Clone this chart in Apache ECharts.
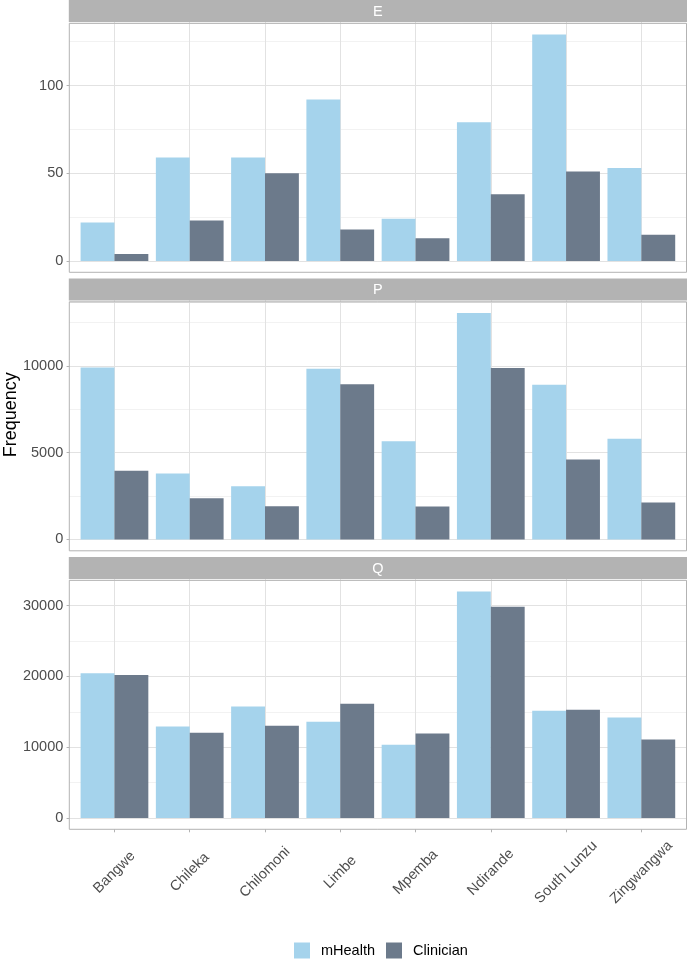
<!DOCTYPE html>
<html>
<head>
<meta charset="utf-8">
<script src="https://cdn.jsdelivr.net/npm/echarts@6/dist/echarts.min.js"></script>
<style>
html,body{margin:0;padding:0;background:#fff;}
#chart{width:688px;height:959px;}
</style>
</head>
<body>
<div id="chart"></div>
<script>
// ---- data ----
const categories = ['Bangwe', 'Chileka', 'Chilomoni', 'Limbe', 'Mpemba', 'Ndirande', 'South Lunzu', 'Zingwangwa'];
const seriesNames = ['mHealth', 'Clinician'];
const panelNames = ['E', 'P', 'Q'];
const E_mHealth = [22, 59, 59, 92, 24, 79, 129, 53];
const E_clinician = [4, 23, 50, 18, 13, 38, 51, 15];
const P_mHealth = [9900, 3800, 3070, 9830, 5650, 13030, 8910, 5800];
const P_clinician = [3950, 2380, 1920, 8930, 1900, 9870, 4600, 2130];
const Q_mHealth = [20450, 12930, 15750, 13590, 10340, 31970, 15140, 14200];
const Q_clinician = [20200, 12040, 13020, 16130, 11940, 29850, 15280, 11100];
const E_ticks = [0, 50, 100];
const P_ticks = [0, 5000, 10000];
const Q_ticks = [0, 10000, 20000, 30000];

const panelData = [
  { name: panelNames[0], values: [E_mHealth, E_clinician], ticks: E_ticks },
  { name: panelNames[1], values: [P_mHealth, P_clinician], ticks: P_ticks },
  { name: panelNames[2], values: [Q_mHealth, Q_clinician], ticks: Q_ticks }
];

// ---- layout / style ----
const FONT = '"Liberation Sans", Arial, Helvetica, sans-serif';
const colors = ['#a5d3ec', '#6c7a8b'];
const panelLeft = 69.3, panelRight = 686.5;
const unit = (panelRight - panelLeft) / (categories.length + 0.2);
const innerLeft = panelLeft + 0.1 * unit, innerRight = panelRight - 0.1 * unit;
const stripH = 23.3, panelH = 249, gapH = 6.2;
const gridH = panelH * 1.05 / 1.1;
const expandPx = panelH - gridH;
const majorColor = '#e2e2e2', minorColor = '#f2f2f2', borderColor = '#b3b3b3';

const grids = [], xAxes = [], yAxes = [], series = [], graphics = [];
let lastPanelBottom = 0;

panelData.forEach((p, k) => {
  const panelTop = stripH + k * (stripH + panelH + gapH);
  const stripTop = panelTop - stripH;
  lastPanelBottom = panelTop + panelH;
  const maxVal = Math.max(...p.values[0], ...p.values[1]);
  const yMax = maxVal * 1.05;
  const major = p.ticks[1] - p.ticks[0];
  const minor = major / 2;

  grids.push({ left: panelLeft, width: panelRight - panelLeft, top: panelTop, height: gridH, outerBoundsMode: 'none' });
  grids.push({ left: innerLeft, width: innerRight - innerLeft, top: panelTop, height: gridH, outerBoundsMode: 'none' });

  xAxes.push({ gridIndex: 2 * k, type: 'value', show: false, min: 0, max: 1 });
  xAxes.push({
    gridIndex: 2 * k + 1, type: 'category', data: categories, position: 'bottom', offset: expandPx,
    axisLine: { show: false }, axisLabel: { show: false, interval: 0 }, splitLine: { show: false },
    axisTick: { show: true, interval: 0, inside: true, alignWithLabel: true, length: panelH, lineStyle: { color: majorColor, width: 1 } }
  });

  yAxes.push({
    gridIndex: 2 * k, type: 'value', position: 'left', min: 0, max: yMax, interval: minor,
    axisLine: { show: false }, axisTick: { show: false }, axisLabel: { show: false },
    splitLine: { show: true, lineStyle: { color: minorColor, width: 1 } }
  });
  yAxes.push({
    gridIndex: 2 * k, type: 'value', position: 'left', offset: 0, min: 0, max: yMax, interval: major,
    axisLine: { show: false },
    axisTick: { show: true, length: 2.7, lineStyle: { color: borderColor, width: 1 } },
    axisLabel: { margin: 6, fontSize: 14.5, color: '#4d4d4d', fontFamily: FONT, showMaxLabel: false, formatter: v => String(v) },
    splitLine: { show: true, lineStyle: { color: majorColor, width: 1 } }
  });
  yAxes.push({ gridIndex: 2 * k + 1, type: 'value', position: 'left', min: 0, max: yMax, show: false, splitLine: { show: false } });

  p.values.forEach((vals, s) => {
    series.push({
      type: 'bar', name: seriesNames[s], data: vals,
      xAxisIndex: 2 * k + 1, yAxisIndex: 3 * k + 2,
      barWidth: '45%', barGap: '0%',
      itemStyle: { color: colors[s], borderWidth: 0 },
      emphasis: { disabled: true }
    });
  });

  // strip
  graphics.push({ type: 'rect', z: 10, shape: { x: panelLeft - 0.5, y: stripTop, width: panelRight - panelLeft + 1, height: stripH - 1.2 }, style: { fill: '#b3b3b3' } });
  graphics.push({ type: 'text', z: 11, x: (panelLeft + panelRight) / 2, y: stripTop + (stripH - 1.2) / 2 + 0.5,
    style: { text: p.name, fill: '#ffffff', font: '14.5px ' + FONT, textAlign: 'center', textVerticalAlign: 'middle' } });
  // panel border
  graphics.push({ type: 'rect', z: 10, shape: { x: panelLeft, y: panelTop, width: panelRight - panelLeft, height: panelH },
    style: { fill: 'none', stroke: borderColor, lineWidth: 1 } });
});

// x labels on bottom panel
xAxes.push({
  gridIndex: 5, type: 'category', data: categories, position: 'bottom', offset: expandPx,
  axisLine: { show: false }, splitLine: { show: false },
  axisTick: { show: true, interval: 0, alignWithLabel: true, length: 3, lineStyle: { color: borderColor, width: 1 } },
  axisLabel: { interval: 0, rotate: 45, align: 'center', verticalAlign: 'middle', margin: 43,
    fontSize: 14.5, color: '#4d4d4d', fontFamily: FONT }
});

// y title
graphics.push({ type: 'text', z: 11, x: 11, y: lastPanelBottom / 2, rotation: Math.PI / 2,
  style: { text: 'Frequency', fill: '#000000', font: '18px ' + FONT, textAlign: 'center', textVerticalAlign: 'middle' } });

const chart = echarts.init(document.getElementById('chart'), null, { renderer: 'canvas' });
chart.setOption({
  animation: false,
  backgroundColor: '#ffffff',
  grid: grids,
  xAxis: xAxes,
  yAxis: yAxes,
  series: series,
  legend: {
    data: seriesNames, left: 294, top: 942.5, padding: 0, itemWidth: 16, itemHeight: 16, itemGap: 11, icon: 'rect',
    textStyle: { fontSize: 14.5, color: '#000000', fontFamily: FONT, padding: [0, 0, 0, 6] }
  },
  graphic: graphics
});
</script>
</body>
</html>
